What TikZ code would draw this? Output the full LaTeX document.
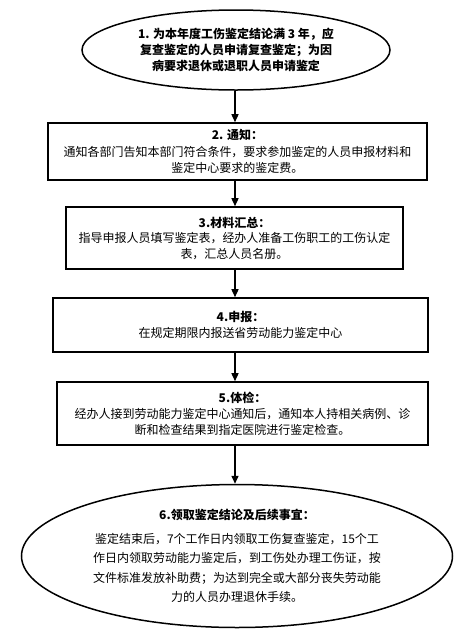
\documentclass[tikz,border=0pt]{standalone}
\usepackage{fontspec}
\setmainfont{Noto Sans CJK SC}
\usetikzlibrary{shapes.geometric,arrows.meta}

\tikzset{
  stepbox/.style={draw, line width=1.6pt, inner sep=0pt, align=center,
    font=\fontsize{12}{16.5}\selectfont},
  stepoval/.style={ellipse, draw, line width=1.5pt, inner sep=0pt, align=center},
  flowarrow/.style={-{Triangle[length=8pt,width=7pt]}, line width=1.5pt},
}

\begin{document}
\begin{tikzpicture}[x=1pt,y=-1pt]
    \fill[white] (0,0) rectangle (470,641);
    \useasboundingbox (0,0) rectangle (470,641);
    \coordinate (axis) at (235,0);

    % start and end ovals
    \node[stepoval, minimum width=308pt, minimum height=80pt,
          font=\bfseries\fontsize{12}{16}\selectfont] (s1) at (236,50)
        {1. 为本年度工伤鉴定结论满 3 年，应\\复查鉴定的人员申请复查鉴定；为因\\病要求退休或退职人员申请鉴定};

    % middle steps
    \node[stepbox, minimum width=379pt, minimum height=57pt] (s2) at (237.5,151.5)
        {\textbf{2. 通知：}\\通知各部门告知本部门符合条件，要求参加鉴定的人员申报材料和\\鉴定中心要求的鉴定费。};
    \node[stepbox, minimum width=337pt, minimum height=62pt,
          font=\fontsize{12}{15.5}\selectfont] (s3) at (234.5,238)
        {\textbf{3.材料汇总：}\\指导申报人员填写鉴定表，经办人准备工伤职工的工伤认定\\表，汇总人员名册。};
    \node[stepbox, minimum width=375pt, minimum height=54pt] (s4) at (240.5,325)
        {\textbf{4.申报：}\\在规定期限内报送省劳动能力鉴定中心};
    \node[stepbox, minimum width=371pt, minimum height=63pt,
          font=\fontsize{12}{16}\selectfont] (s5) at (242.5,413.5)
        {\textbf{5.体检：}\\经办人接到劳动能力鉴定中心通知后，通知本人持相关病例、诊\\断和检查结果到指定医院进行鉴定检查。};

    \node[stepoval, minimum width=431pt, minimum height=143pt,
          font=\fontsize{12}{19.5}\selectfont] (s6) at (237,556)
        {\textbf{6.领取鉴定结论及后续事宜：}\\[4pt]鉴定结束后，7个工作日内领取工伤复查鉴定，15个工\\作日内领取劳动能力鉴定后，到工伤处办理工伤证，按\\文件标准发放补助费；为达到完全或大部分丧失劳动能\\力的人员办理退休手续。};

    % arrows down the column
    \foreach \a/\b in {s1/s2, s2/s3, s3/s4, s4/s5, s5/s6} {
        \draw[flowarrow] (\a.south -| axis) -- (\b.north -| axis);
    }
\end{tikzpicture}
\end{document}
